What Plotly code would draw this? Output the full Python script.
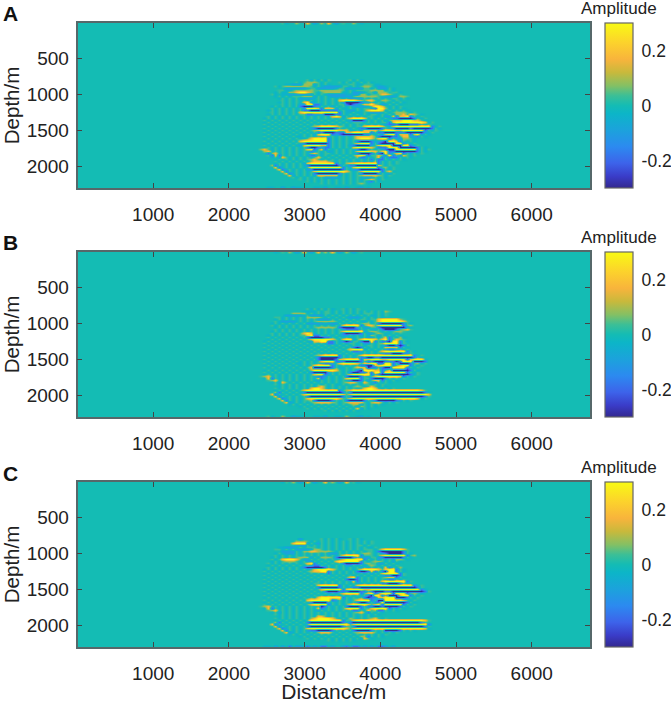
import numpy as np
import plotly.graph_objects as go

W, H = 671, 703

# amplitude levels used in the hand-read rows below
levels = {'.': 0, ',': 0.035, ';': -0.035, 'g': 0.09, 'c': -0.09,
          'y': 0.18, 'b': -0.18, 'Y': 0.3, 'B': -0.3}

distance_start, distance_step = 2330, 47
depth_start, depth_step = 806, 28
n_cols = 58

rows_a = [
    "...............,;,;,;,.....,;,;",
    "............,;,ggg,;,...,;,;,;,;,;",
    ".........;;cccgggc,;,;.....,,;;,,,;;",
    "......,;,ggggggg,;,;ccccc,,;,;,gg,;cc;",
    ".........cccccc;,,ccccc;,,ccccc,,;,ccc,;",
    ".......,,;;,ggggg,,gggggg,;,;,,,,gggg;,;",
    "......;,;;ggyYYyg,;,ggggg;;,ccc;,,cggg.,,;",
    ".....,;.;;ccccccc,;,;ccccc;;ccgg;,,,yyg.;,",
    "......;,;,;,,,gggc,;,;cccccc,gggggg,;ccc;gg,",
    ".......;,;,;,cccc;,;,;,;,;,cccc,;,;,;,;,,;,;",
    "........,;,;,;,;,;,;,;,;yYYYYyg,yy,;gg,;,",
    ".......;,;,;,;yYc;,;,;,;,cBBBBbcc,;,;,;,;,;",
    "........,;,;,ccYYbb;,;,;,,bBbc,yyYg,cc,;,;",
    ".....;,;,;,;,bBBBbc,;,c,;,;,cccc;,YYy,;,;,",
    ".....,;,;,;,;,cYYYybyyyc,;;,;,;,,;bYYg;,;,;",
    "....;,;,;,;,;,bbBBBbbbbb;,;cc,;,yYYYy;,;,;,;",
    ".....,;,;,;,;yYYYYYYYYYYb,;;,;;,;ccc;,;,ggg,;,",
    "....;,;,;,;,;,,bbcc;BBBbb,;,;,;,;,,;,;,;ggy,yg,;",
    "....,;,;,;,;,;,;,;,;,;yYyc,;,;,;,,;;,ccybyyYb,;,",
    "...;,;,;,;,;,;,;,;,;,;,;,;,yYYYy;,;,;,;bbBBBBb,;,",
    "...,;,;,;,;,;,;,;,;,;,;,;,;cBBBb,;,;,c,yyyYYYyy,;",
    "...;,;,;,;,;,;,;,;,;,;,;,;,;,,,;,;,;,,byYYYYYYYYy;,",
    "...,;,;,;,;,;,;,;,;,;,;,;,;,;,;,;,;,;cbbbBBBbbb,;,",
    "...;,;,;,;,;,;,;,gyYYYYyg,;,;,,yYYYYy,;yYYYYYYYYYYb;,",
    "...,;,;,;,;,;,;,cbBBBBBb,;,;,;bbBBBBb,;bBBBBbBBBBBb,;",
    "...;,;,;,;,;,;,;,gyYYYYYyyy;;,;yyyy,yYYYyyYYYYYYb,;,",
    "...,;,;,;,;,;,;,;,bbBBBbbbyyYYYyyb,bbBBBbbbBBBBBc;,",
    "...;,;,;,;,;,;,;,cyYYYbcbBBBBBBbb,;,;yYYbyyybyYc,;",
    "...,;,;,;,;,;;,;,;,;,;,;,;,;,yyyyy,bBBBbb,yyccb,;",
    "...;,;,;,;,;,;;,yYYYYb,;,;,;,yYYYy,yYYb,ccgg,;",
    "...,;,;,;,;,;yYYYYYYYb,;,;,;,bBBBb;cbBYYyb,;,;",
    "...;,;,;,;,;,;bBBBBBBb,;,;,;,yYYYb,bBBBBYYb,;,",
    "...,;,;,;,;,;cyYYYYyyb,;,;,cbBBBBc,yYYYBBBYYb;,",
    "...;,;,;,;,;,;,bBBbcbb,;,;,;yYYYYy,bbbYYYBBBBBb,;",
    "..gy,;,;,;,;,;,yYb,yb,;,;,;,;bBBb,;,;bBBYYYYYYb,;,",
    "...gy;,;,;,;,;,;bc,;,c;,;,;,;yYYYyy,yYbbBBBBBBb,;",
    "....bgy;,;,;,;,;gy,;,,;,;,;,;bBBBb,bBYb,yYb,;,;,",
    "....,byb,;,;,;,;bb,;,;,;,;,;,yYyb,,y,bYb,by,;,",
    ".....;,cy,;,;,;,;,y,;,;,;,;,;gbb,;,yb,bbb,;,;",
    "......;,;,;,;,;,gy,;,;,;,;,;,;,;,b,bb,;,;,;",
    "......,;,;,;,;,;gyyyyg,;,;,;,;,;,;gb,;,;,",
    "......;,;,;,;,cyYYYYYYYb,;gyyYYYYYYb,;,;,",
    ".....gb,;,;,;,;bBBBBBBBBb,;bbBBBBBBy,;,",
    "......yb;,;,;,;,YYYYYYYYYb,;yYYYYYYb,g;,",
    ".......yb;,;,;,cbBBBBBBBBb,;cbBBBBBBb,;,",
    "........yb,;,;,;,yYYYYYYYYy,;,yYYYYYb,y;",
    ".........yb;,;,;,bBBBBBBb,;,;,bBBBBb,;c,",
    "..........yc,;,;,cyyyyyyc,;,;,gyyyyg,;,",
    "...........,;,;,;,;,cccc;,;,;,;ccc,;,;",
    ".............,;,;,;,;,;,;,;,;,;,gy,;,",
    "...............,;,;,;,;,;,;,;,;,cb,;",
    "...................,;,;,;,;,;,g,;",
    "",
    "....;;..c..c;;...;;.c..;;.c..;c.;.",
    "",
]

rows_b = [
    "...............,;,;,;,;..,;,;,",
    "..............;;;;,;,,;,;,;,;,;,;,;,;g,",
    "...........gggg;,;,;,,;,;,;,;,;,,,;,;,",
    ".........ccccc;,cccc,;,;,;,;,;,;,;;,;,",
    "......,,;,;,;,;gggg,;,;,;,;ccc;,;,;,;",
    "......;,;,;,;,;,;,cccc,;,;,;,;,,;,,yYYYYYg,",
    "......,;cccc;,;,;,ggggg,;,;,;,;c,;,yYYYYYYy,",
    ".....;,;,;,;,;,ccccc;ccc,;,;,;,gg;,bBBBBBBb,;",
    ".....,;,;,;,;,;,;,;,;,;,;yYYYYb,yy,yYYYYYYb,g",
    "......;,;,;,;,;,;,ggggg,bBBBBc,cc,,bBBBBBBBc;",
    "......,;,;,;,;,;,;,;,;,;,cbbbb,;,;c,bBBBb,gy,",
    ".....;,;,;,;,;,;,;,;,;,;,yYYYYYc,gg,;,;,gg,",
    ".....,;,;,;,;,yYyc,;,;,;,bBBBBb,cc,g,;;,;,",
    "....;,;,;,;,;,,yYbb,;,;,;cc,;,c,;g,c,;,;,;",
    "....,;,;,;,;,;,bBBBBbb,;,;,;;,;,cc,;,yb,;g;",
    "....;,;,;,;,;,;,yYYYYYy,;yYYc,yYYYy,yYb,yg,",
    "...;,;,;,;,;,;,;cyyYYbb,;bBb,,bBBYb,bbBYYb,;",
    "...,;,;,;,;,;,;,;,;,;bb,;,;,,;,cc,;,gYYYYb,",
    "...;,;,;,;,;,;,;,;,;,;,;,;,;,;,;,,;,;bBBbBb,",
    "...,;,;,;,;,;,;,;,;,;,;,;,;,bBb,;,;,;yyyyb,;",
    "...;,;,;,;,;,;,;,;,;,;,;,;,yYYYc,;,;,cbbc,;,",
    "...,;,;,;,;,;,;,;,;,;,;,;,;,bbc,;,;,yYYYYYYb,;",
    "...;,;,;,;,;,;,;,;,;,;,;,;,;,;;,;,;,cbbBBBbc,",
    "...,;,;,;,;,;,;,;,gyYYYYb,;,;,yYYYYYYYYYYYYYYb;,",
    "...;,;,;,;,;,;,;,;bBBBBBb,;,;,bbBBbbBBBBBBBBBb,;",
    "...,;,;,;,;,;,;,;,bBBBBbyyYYYYbyyYYYyyYYYYYbyYYY;",
    "...;,;,;,;,;,;,;,;,yYYYbbbBBBBb,bbBBBbbbBbYYYBBBb",
    "...,;,;,;,;,;;,;,;,;bbc,yYYYYy,yyYYbbYYb,BBBb,g;,",
    "...;,;,;,;,;,;,;,yYYYYb,;,;,;,bbBByyYYYb,yYYb,;,",
    "...,;,;,;,;,;,;,yBBBBBb,;;,;,yyyBbb,bBBYYYYb,;,",
    "...;,;,;,;,;,;,;gYYYYYYy,;,;,bBYYYyyb,yBBBBBb,;",
    "...,;,;,;,;,;,;,bBBBBc,;,;,bBBbbybYYbYYYYYYb,;,",
    "...;,;,;,;,;,;,;,yYYbc,;,;,yYYYYYb,bBBBBBBBBb;,",
    "..,gy;,;,;,;,;,;,;bbc,;,;,bBBBb,;,yYYYYYYyb,;,",
    "...;yb,;,;,;,;,;,;yb;,;,;,yYYYb,,bBBBb,;,;,",
    "....,gy;,;,;,;,;,;c,;,;,;,;bBBb,c,yyb,;,;",
    ".....;,cy,;,;,;,;,;,;,;,;,gyy,;y,;b,;,;",
    "......,;,;,;,;,;,;,;,;,;;,;,;,;,,;,;,",
    ".......;,;,;,;,;,;gy,;,;,;,;,g,;,y,;,;",
    "......,;,;,;,;,;yYYy,;,;,;,;,;,yYYy,;,;,",
    "......;,;,;,;,yYYYYYYYYYb,gyYYYYYYYYYYYYYYYYYYYy,",
    "......gb,;,;,;bBBBBBBBBBBb,bBBBBBBBBBBBBBBBBBBBBb;",
    ".....yb,;,;,;,yYYYYYYYYYYy,yYYYYYYYYYYYYYYYYYYYYYy",
    "......yb,;,;,;,bBBBBBBBBBb,bBBBBBBBBBBBBBBBBBBBBb,",
    ".......yb;,;,;,yYYYYYYYYy,,yYYYYYYYYYYYYYYYYYYy;,",
    "........yb,;,;,,gbBBBBb,;,bBBBBb,;bBBBBBbc,;,",
    ".........yc;,;,;,gyyyyg,;,gyyyy,;gyy,;,;,",
    "..........;,;,;,;,;,;,;,;,;,ggc,;,;,;",
    ".............;,;,;,;,;,;,;,;,cg,;,;",
    "...............,;,;,;,;,;,;,;yc,;",
    "....................,;,;,;,;,;",
    "",
    "",
    "....,;..g..c;;...;;.c..;;.g..;c.;.",
    "",
]

rows_c = [
    ".............c.....,;,;,;..,;,;",
    "............ggg,;,;,;,;,;,;,;,;,;,",
    "...........yYYYc,;c,;,;,;,;,;,;,;,",
    "............ccc,;,;,;,;,;,;,;,,;,",
    ".......;;ccc;,;,,,;,;,;,;,;,;,;,;;,",
    "......,,;,;,cccc;gg,;,;,;,;,;,;,,,;,yYYYYYy,",
    "........cccc,;ggyygggg,;,;,;,;,;,,;bBBBBBBb,",
    "......;,;ccc,;,;,;,;,ccc,;,;,;,gg,;,cbBBBBb,;",
    "......,;,;,;,;,;,;,;,;,;,yYYYYb,,,;,yYYYYYYb,g",
    ".....;,;,;,;,gggc,;ggg,bBBBBb,;cc,,cbBBBBBb,;",
    ".....,;,yYYYy,cc,;,;,;,;,yYYYYYb,;,c,;,;gg,;",
    ".....;,;,ggg,;,cc,;,;,;yYYYYYYb,;,gg,;,c,;",
    "....,;,;,;,;,;,yYb,;,;,;,bBBBBb,g,,cc,;,;",
    "....;,;,;,;,;,;,;bb,;,;,;,cc,;,c,g,;,;,;,",
    "....,;,;,;,;,;bBBBBBb,;,;,;,;,c,;,;,;yb,;g",
    "...;,;,;,;,;,;,;,yYYYYy,;,;,;,yYYYYy,yYYb,;",
    "...,;,;,;,;,;,;,gyyYYb,;,;,;,bBBbyb,bBYYb,;",
    "...;,;,;,;,;,;,;,;,;,b,;,;,;,;,;,c,;yYYYYb,",
    "...,;,;,;,;,;,;,;,;,;,;,;,;,;,;,;,;,cbbBBb,",
    "...;,;,;,;,;,;,;,;,;,;,;,;,yYb,;,;,;,gyyb,;",
    "...,;,;,;,;,;,;,;,;,;,;,;,bBBb,;,;,;,;bb,;,",
    "...;,;,;,;,;,;,;,;,;,;,;,;,;yb,;,;,;yYYYYYYb,",
    "...,;,;,;,;,;,;,;,,;,;,;,;,;,;;,;,;,bbBBBb,;",
    "...;,;,;,;,;,;,;,;yYYYYYb,;,;yYYYYYYYYYYYYYYYb;,",
    "...,;,;,;,;,;,;,;,bBBBBBb,;;bbBBBBBBBBBBBBBBBBb,",
    "...;,;,;,;,;,;,;,;,yYYYYYbyYYYYyyYYYYYYYYYYYYYYb;",
    "...,;,;,;,;,;,;,;,;,bBBBbbbBBBbb,bBBBbbBBBBBBBBBb,",
    "...;,;,;,;,;,;,;,;,;,;,;,yYYYYb,yYb,YYYbYYYb,g,;",
    "...,;,;,;,;,;,;,;,;,;,;,;,;,;,;,bBYYb,BBByYYb,;,",
    "...;,;,;,;,;,;,;,;yYYYYYYb,;,;,bBbbyyYYYBBBb,;,",
    "...,;,;,;,;,;,;yYYYYYYbc,;,;,yYYYb,BBYYYYYy,;,",
    "...;,;,;,;,;,;,;bBBBBc,;,;,;,bBBb,bbYBBBBBBb,;",
    "...,;,;,;,;,;,;,yYYYYb,;,;,yYYYYy,yYbYYYYYb,;,",
    "..,gy;,;,;,;,;,;,;,Bb,;,;,bBBBb,bbBBbBBBBb,;,",
    "...;yb,;,;,;,;,;,;yb;,;,;,yYYYb,,yYYYYb,;,;",
    "....,gy;,;,;,;,;,;c,;,;,;,;,bb,;y,gbb,;,;",
    ".....;,c,;,;,;,;,;,;,;,;,;,;,gy,b,;,;",
    "......,;,;,;,;,;,;,;,;,;,;,;,;,;,;,;",
    ".......;,;,;,;,;,;yy,;,;,;,;,;,;,;",
    "......,;,;,;,;,;gyYYYYy,;,;g,;,;,gy,;,",
    "......;,;,;,;,;,YYYYYYYYYb,,yYYYYYYYYYYYYYYYYYYYy,",
    "......gb,;,;,;,bBBBBBBBBBb;bBBBBBBBBBBBBBBBBBBBb,",
    ".....yb,;,;,;,;,YYYYYYYYYYY,yYYYYYYYYYYYYYYYYYYYYb",
    "......yb,;,;,;,bBBBBBBBBBb,,bBBBBBBBBBBBBBBBBBBBb,",
    ".......yb;,;,;,yYYYYYYYYYYy,yYYYYYYYYYYYYYYYYYYYy;",
    "........yb,;,;,cbbBBBBb,;,;,bBBBBb,;,BBBBb,;,;",
    ".........yc;,;,;,;gyyy,;,;,;,gyyyy,;,;,;,",
    "..........;,;,;,;,;,;,;,;,;,;,;,;,;,;,",
    ".............;,;,;,;,;,;,;,;,;ggb,;,;",
    "...............,;,;,;,;,;,;,;,cy,;",
    ".....................,;,;,;,;",
    "",
    "",
    "...;;.c.c.b.cc.b.c.bb.c..cb.bb.c.c.bbc.c",
    "",
]

# specks right under the surface, at the top edge of each section
surface_depths = [14, 42]
surface_a = ["........,;..g..y.c.g.y.c.,..g.;.", ""]
surface_b = ["......;.,.g.c.y.c.y.g.y.c.g.c.,", ""]
surface_c = ["........;,.g.c.y.c..y.g.c.y.,;", ""]

amplitude_ticks = [-0.2, 0, 0.2]
amplitude_labels = ['-0.2', '0', '0.2']
distance_ticks = [1000, 2000, 3000, 4000, 5000, 6000]
depth_ticks = [500, 1000, 1500, 2000]

# parula
parula = [
    [0.0, '#33288f'], [0.07, '#3a3cc8'], [0.15, '#3d63ea'], [0.25, '#2c8af0'],
    [0.35, '#1ca2dc'], [0.45, '#0cb5c8'], [0.5, '#14bcb4'], [0.56, '#3cbf96'],
    [0.62, '#84c064'], [0.7, '#c8b93c'], [0.78, '#f8b43c'], [0.88, '#fcd22c'],
    [1.0, '#f8fa14'],
]


def to_grid(rows):
    z = [[levels[ch] for ch in row.ljust(n_cols, '.')[:n_cols]] for row in rows]
    return np.array(z, dtype=float)


panels = [('A', rows_a, surface_a, 23), ('B', rows_b, surface_b, 252),
          ('C', rows_c, surface_c, 482)]
panel_h = 165
x_cells = distance_start + distance_step * np.arange(n_cols)

fig = go.Figure()
for i, (label, rows, surface, top) in enumerate(panels):
    n = '' if i == 0 else str(i + 1)
    z = to_grid(rows)
    y = depth_start + depth_step * np.arange(z.shape[0])
    fig.add_trace(go.Heatmap(
        x=x_cells, y=y, z=z, zmin=-0.3, zmax=0.3, zsmooth='best',
        colorscale=parula, xaxis=f'x{n}', yaxis=f'y{n}', hoverinfo='skip',
        colorbar=dict(
            x=605 / W, xanchor='left', xpad=0, thickness=28,
            y=1 - (top + panel_h / 2) / H, yanchor='middle', ypad=0,
            lenmode='pixels', len=panel_h,
            tickmode='array', tickvals=amplitude_ticks, ticktext=amplitude_labels,
            ticks='outside', ticklen=5, tickcolor='rgba(0,0,0,0)',
            tickfont=dict(size=17.5, color='#222'),
            outlinecolor='#666', outlinewidth=1.2,
        ),
    ))
    fig.add_trace(go.Heatmap(
        x=x_cells, y=surface_depths, z=to_grid(surface), zmin=-0.3, zmax=0.3,
        zsmooth='best', colorscale=parula, showscale=False,
        xaxis=f'x{n}', yaxis=f'y{n}', hoverinfo='skip',
    ))
    axis = dict(
        showgrid=False, zeroline=False, showline=True, linecolor='#56686a',
        linewidth=1.5, mirror='ticks', ticks='inside', ticklen=5, tickcolor='#444',
        tickfont=dict(size=19, color='#222'),
    )
    fig.update_layout({
        f'xaxis{n}': dict(axis, domain=[77.5 / W, 590 / W], range=[0, 6770],
                          tickvals=distance_ticks, anchor=f'y{n}',
                          ticklabelstandoff=8),
        f'yaxis{n}': dict(axis, domain=[1 - (top + panel_h) / H, 1 - top / H],
                          range=[2305, 14], tickvals=depth_ticks, anchor=f'x{n}',
                          ticklabelstandoff=3,
                          title=dict(text='Depth/m', font=dict(size=20.5, color='#222'),
                                     standoff=6)),
    })
    fig.add_annotation(text=f'<b>{label}</b>', xref='paper', yref='paper', x=1 / W,
                       y=1 - (top - 9) / H, xanchor='left', yanchor='middle',
                       showarrow=False, font=dict(size=21, color='#111'))
    fig.add_annotation(text='Amplitude', xref='paper', yref='paper', x=619 / W,
                       y=1 - (top - 15) / H, xanchor='center', yanchor='middle',
                       showarrow=False, font=dict(size=17, color='#222'))

fig.update_layout(
    width=W, height=H, autosize=False,
    # colour bars would otherwise push the margins and shrink the axes
    margin=dict(l=0, r=0, t=0, b=0, autoexpand=False),
    paper_bgcolor='white', plot_bgcolor='#14bcb4',
    font=dict(family='Liberation Sans, Arial, sans-serif'),
    showlegend=False,
)
fig.update_xaxes(title=dict(text='Distance/m', font=dict(size=21, color='#222'), standoff=10),
                 selector=dict(anchor='y3'))

# keep the page exactly the figure's size
page_fix = ("document.documentElement.style.overflow='hidden';"
            "document.body.style.margin='0';document.body.style.overflow='hidden';"
            "document.querySelector('.plotly-graph-div').style.display='block';")
fig.write_html("out.html", config=dict(displayModeBar=False), post_script=page_fix)
